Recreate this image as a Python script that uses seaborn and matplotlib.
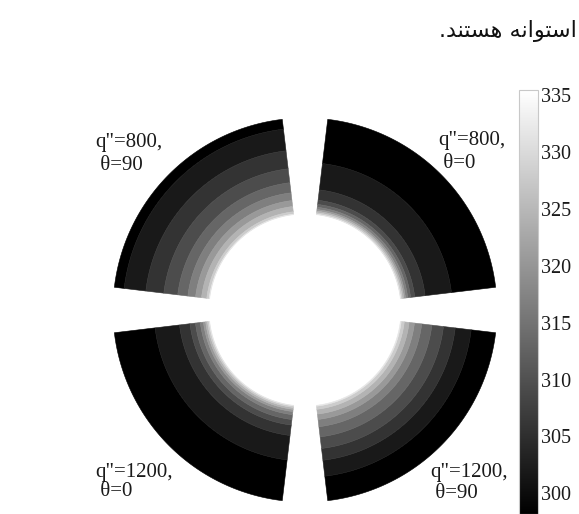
import numpy as np
import matplotlib
matplotlib.use("Agg")
import matplotlib.pyplot as plt
import matplotlib.colors as mcolors
import seaborn as sns

# Radial stations across the wall (inner wall r=1, outer wall r=2)
r_station = [1.00, 1.03, 1.06, 1.10, 1.15, 1.20, 1.30, 1.40, 1.55, 1.70, 1.85, 2.00]

# Wall temperature [K] at each station for the four cases
T_q800_th90 = [332.5, 328.0, 325.9, 323.3, 320.4, 317.9, 314.1, 311.2, 307.8, 305.1, 302.8, 300.0]
T_q800_th0 = [332.8, 325.7, 319.2, 313.7, 309.4, 306.9, 304.8, 303.1, 301.8, 300.9, 300.0, 299.3]
T_q1200_th0 = [333.0, 326.3, 321.1, 316.6, 313.0, 309.6, 305.9, 304.3, 302.1, 300.9, 299.9, 299.0]
T_q1200_th90 = [333.0, 328.7, 326.8, 323.6, 320.4, 317.7, 314.0, 311.0, 306.3, 302.5, 300.5, 299.2]

case_q = ['q"=800,', 'q"=800,', 'q"=1200,', 'q"=1200,']
case_theta = [' θ=90', ' θ=0', ' θ=0', ' θ=90']
cbar_ticks = [300, 305, 310, 315, 320, 325, 330, 335]
T_min, T_max = 298.2, 335.4
caption = "استوانه هستند."

sns.set_theme(style="white")
plt.rcParams["font.family"] = ["Liberation Serif", "DejaVu Serif"]

# contextual letter forms: (isolated, final, initial, medial)
_FORMS = {
    "ا": ("\uFE8D", "\uFE8E", None, None),
    "د": ("\uFEA9", "\uFEAA", None, None),
    "و": ("\uFEED", "\uFEEE", None, None),
    "س": ("\uFEB1", "\uFEB2", "\uFEB3", "\uFEB4"),
    "ت": ("\uFE95", "\uFE96", "\uFE97", "\uFE98"),
    "ن": ("\uFEE5", "\uFEE6", "\uFEE7", "\uFEE8"),
    "ه": ("\uFEE9", "\uFEEA", "\uFEEB", "\uFEEC"),
}


def shape_rtl(text):
    """Join Persian letters and put them in left-to-right display order."""
    out = []
    for i, ch in enumerate(text):
        if ch not in _FORMS:
            out.append(ch)
            continue
        prev = text[i - 1] if i > 0 else ""
        nxt = text[i + 1] if i + 1 < len(text) else ""
        iso, fin, ini, med = _FORMS[ch]
        j_prev = prev in _FORMS and _FORMS[prev][2] is not None
        j_next = nxt in _FORMS and ini is not None
        if j_prev and j_next:
            out.append(med)
        elif j_prev:
            out.append(fin)
        elif j_next:
            out.append(ini)
        else:
            out.append(iso)
    return "".join(reversed(out))


W, H, DPI = 579, 514, 100
fig = plt.figure(figsize=(W / DPI, H / DPI), dpi=DPI)
fig.patch.set_facecolor("white")

PX = 96.0            # pixels per unit radius
CX, CY = 305, 310    # pixel position of the cylinder axis
ax = fig.add_axes([0, 0, 1, 1])
ax.set_xlim(-CX / PX, (W - CX) / PX)
ax.set_ylim(-(H - CY) / PX, CY / PX)
ax.axis("off")

cmap = sns.color_palette("gray", as_cmap=True)
norm = mcolors.Normalize(T_min, T_max)
levels = np.linspace(T_min, T_max, 11)
band_colors = [cmap(norm(v)) for v in levels[:-1]]

profiles = [T_q800_th90, T_q800_th0, T_q1200_th0, T_q1200_th90]
centers = [135, 45, 225, 315]
half_span = 38.2

r = np.asarray(r_station)
for prof, c in zip(profiles, centers):
    th = np.deg2rad(np.linspace(c - half_span, c + half_span, 160))
    R, TH = np.meshgrid(r, th)
    Z = np.tile(np.asarray(prof), (th.size, 1))
    cs = ax.contourf(R * np.cos(TH), R * np.sin(TH), Z, levels=levels,
                     colors=band_colors, antialiased=True)
    cs.set_edgecolor("face")
    cs.set_linewidth(0.4)


def to_data(px, py):
    return (px - CX) / PX, (CY - py) / PX


label_pos = [((95, 147), (95, 170)), ((438, 145), (438, 168)),
             ((95, 477), (95, 496)), ((430, 477), (430, 498))]
for q, t, (p1, p2) in zip(case_q, case_theta, label_pos):
    ax.text(*to_data(*p1), q, fontsize=15, ha="left", va="baseline", color="#1a1a1a")
    ax.text(*to_data(*p2), t, fontsize=15, ha="left", va="baseline", color="#1a1a1a")

# colour bar
cax = fig.add_axes([519 / W, 0.0, 19 / W, (H - 90) / H])
sm = plt.cm.ScalarMappable(norm=norm, cmap=cmap)
cb = fig.colorbar(sm, cax=cax, ticks=cbar_ticks)
cb.outline.set_edgecolor("#c8c8c8")
cb.outline.set_linewidth(0.8)
cax.tick_params(axis="y", direction="in", left=True, right=True, length=4,
                width=0.6, color="#b0b0b0", labelsize=14.5, pad=2,
                labelcolor="#1a1a1a")
for lab in cax.get_yticklabels():
    lab.set_family(["Liberation Serif"])

fig.text(577 / W, 1 - 37 / H, shape_rtl(caption), family=["DejaVu Sans"],
         fontsize=16, ha="right", va="baseline", color="#111111")

fig.savefig("out.png", dpi=DPI, facecolor="white")
